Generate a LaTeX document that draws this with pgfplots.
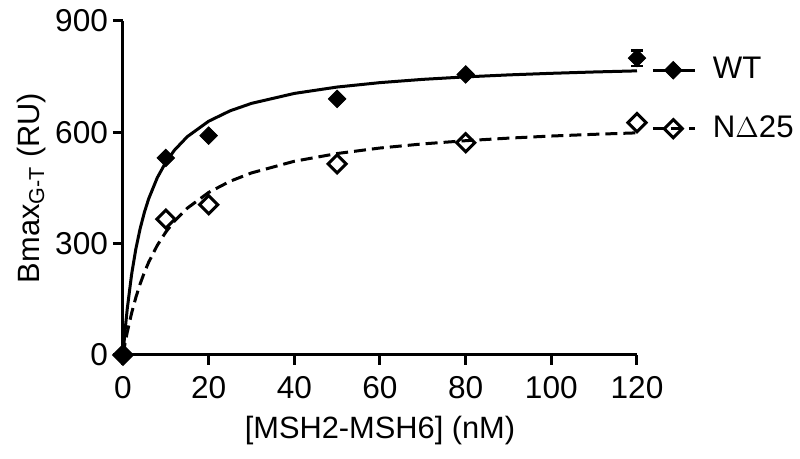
\documentclass[border=0pt]{standalone}
\usepackage{pgfplots}
\pgfplotsset{compat=1.18}
\usetikzlibrary{calc}
\usepackage{fontspec}
\setmainfont{Liberation Sans}
\begin{document}
\fontsize{16}{18}\selectfont
\begin{tikzpicture}
\begin{axis}[name=ax, scale only axis, width=257pt, height=167pt,
 xmin=0, xmax=120, ymin=0, ymax=900,
 axis lines=left, axis line style={line width=1.5pt,-},
 xtick={0,20,40,60,80,100,120}, ytick={0,300,600,900},
 tick style={line width=1.5pt,black}, tick align=outside, major tick length=5pt,
 /pgf/number format/assume math mode=true,
 ticklabel style={font=\fontsize{15.8}{18}\selectfont},
 yticklabel style={xshift=3pt},
 label style={font=\fontsize{15.4}{18}\selectfont},
 xlabel={[MSH2-MSH6] (nM)}, ylabel={Bmax\textsubscript{G-T} (RU)},
 xlabel style={yshift=2pt},
 ylabel style={yshift=-6pt},
 clip=false,
 reverse legend,
 legend style={at={(1.027,0.905)}, anchor=north west, draw=none, fill=none,
   font=\fontsize{15.6}{18}\selectfont, row sep=12pt, column sep=6pt, inner sep=0pt},
 legend cell align=left,
]
% fitted curves
\addplot[black, line width=1.5pt, no marks, forget plot] coordinates {
(0,0)(0.5,67.8)(1,125.0)(2,216.2)(3,285.7)(4,340.4)(5,384.6)(6,421.1)(8,477.6)(10,519.5)(12,551.7)(15,588.2)(20,629.9)(25,657.9)(30,678.0)(40,704.8)(50,722.0)(60,733.9)(70,742.7)(80,749.4)(90,754.7)(100,759.0)(110,762.6)(120,765.6)};
\addplot[black, line width=1.5pt, no marks, dash pattern=on 6pt off 3pt, forget plot] coordinates {
(0,0)(0.5,32.3)(1,61.5)(2,112.3)(3,155.0)(4,191.4)(5,222.8)(6,250.1)(8,295.3)(10,331.3)(12,360.6)(15,395.5)(20,438.0)(25,468.1)(30,490.6)(40,522.0)(50,542.9)(60,557.7)(70,568.8)(80,577.4)(90,584.3)(100,590.0)(110,594.6)(120,598.6)};
% error bar
\addplot[forget plot, draw=none, mark=none, error bars/.cd, y dir=both, y explicit,
  error mark options={black, line width=1.2pt, mark size=3pt, rotate=90},
  error bar style={black, line width=1.2pt}] coordinates {(120,800) +- (0,21)};
% data points
\addplot[only marks, black, line width=1.5pt, mark=square, mark size=3.2pt, mark options={rotate=45, fill=white},
  legend image code/.code={\draw[black,line width=1.5pt,dash pattern=on 6pt off 3pt] (0cm,0cm) -- (0.75cm,0cm);
   \path[black,line width=1.5pt] plot[mark=square,mark size=3.2pt,mark options={rotate=45}] coordinates {(0.36cm,0cm)};}]
 coordinates {(0,0)(10,366)(20,405)(50,515)(80,572)(120,626)};
\addplot[only marks, black, mark=square*, mark size=3.1pt, mark options={rotate=45, fill=black},
  legend image code/.code={\draw[black,line width=1.5pt] (0cm,0cm) -- (0.75cm,0cm);
   \path[black,fill=black] plot[mark=square*,mark size=3.1pt,mark options={rotate=45}] coordinates {(0.36cm,0cm)};}]
 coordinates {(0,0)(10,531)(20,591)(50,690)(80,756)(120,800)};
\legend{N$\Delta$25, WT}
\end{axis}
\pgfresetboundingbox
\path ($(ax.south west)+(-61.5pt,-52pt)$) rectangle ($(ax.north east)+(81.5pt,10.5pt)$);
\end{tikzpicture}
\end{document}
